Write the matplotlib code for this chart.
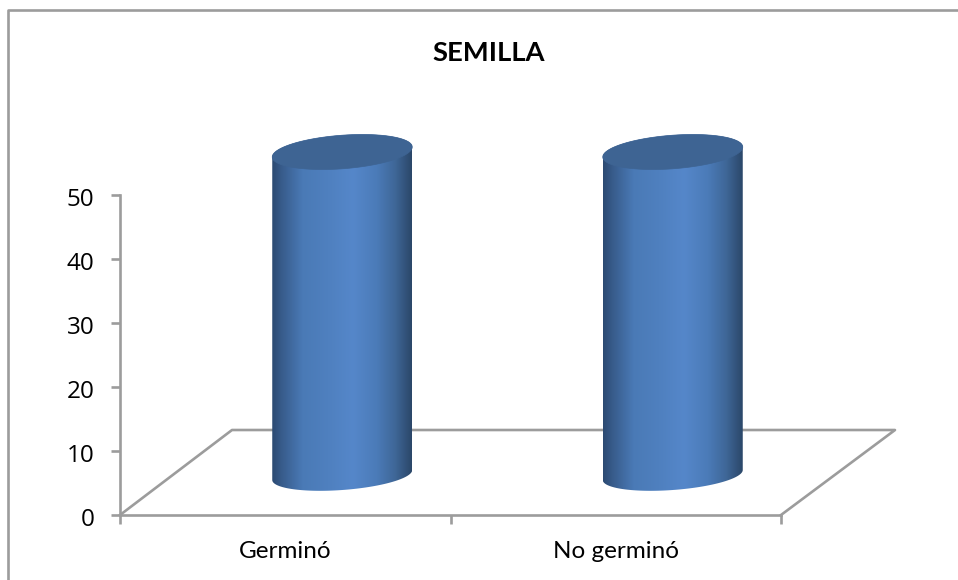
import numpy as np
import matplotlib
matplotlib.use("Agg")
import matplotlib.pyplot as plt
from matplotlib.colors import LinearSegmentedColormap
from matplotlib.lines import Line2D
from matplotlib.patches import Polygon
from matplotlib.transforms import ScaledTranslation

W, H = 958, 580
categories = ["Germinó", "No germinó"]
values = [50, 50]
yticks = [0, 10, 20, 30, 40, 50]
title = "SEMILLA"

GREY = "#9c9c9c"
plt.rcParams["font.family"] = ["Lato", "DejaVu Sans"]

fig = plt.figure(figsize=(W / 100, H / 100), dpi=100)
AX_L, AX_R, AX_T, AX_B = 120, 781, 195, 515
ax = fig.add_axes([AX_L / W, 1 - AX_B / H, (AX_R - AX_L) / W, (AX_B - AX_T) / H])
ax.set_xlim(0, len(categories))
ax.set_ylim(0, 50)
ax.patch.set_alpha(0)

PX = len(categories) / (AX_R - AX_L)   # data units per pixel, x
PY = 50 / (AX_B - AX_T)                # data units per pixel, y
lw = 1.9

# outer frame
fig.add_artist(Line2D([8 / W, 8 / W, 1], [0, 1 - 10 / H, 1 - 10 / H],
                      transform=fig.transFigure, color=GREY, lw=lw))

# axes
for s in ("top", "right"):
    ax.spines[s].set_visible(False)
for s in ("left", "bottom"):
    ax.spines[s].set_color(GREY)
    ax.spines[s].set_linewidth(lw)
ax.set_yticks(yticks)
ax.set_xticks(range(len(categories) + 1))
ax.set_xticklabels([])
ax.tick_params(axis="both", color=GREY, width=lw, length=6.5)
ax.tick_params(axis="y", labelsize=17.5, pad=12, labelcolor="black",
               labelfontfamily="Open Sans")
shift = ScaledTranslation(0, -1.5 / 100, fig.dpi_scale_trans)
for lab in ax.get_yticklabels():
    lab.set_transform(lab.get_transform() + shift)

# floor
dx_floor, dy_floor = 112 * PX, 85 * PY
n = len(categories)
ax.plot([0, dx_floor, n + 114 * PX, n], [0, dy_floor, dy_floor, 0],
        color=GREY, lw=lw, clip_on=False, zorder=1)

# cylinders
cmap = LinearSegmentedColormap.from_list("cyl", [
    (0.00, "#2c4a72"), (0.07, "#385c8c"), (0.22, "#4a7ab6"), (0.40, "#4f80bf"),
    (0.58, "#5587ca"), (0.75, "#4b7bb8"), (0.88, "#3f6798"), (1.00, "#2b4769")])
grad = np.linspace(0, 1, 256).reshape(1, -1)
t = np.linspace(0, 2 * np.pi, 181)
A, SHEAR, B_TOP, B_BOT = 70, 5, 16.8, 15
OFF_X, OFF_Y, TOP_LIFT = 57, 40, 3

for i, v in enumerate(values):
    cx = (i + 0.5) + OFF_X * PX
    base = OFF_Y * PY
    top = v + base + TOP_LIFT * PY
    front = np.linspace(0, np.pi, 91)   # lower half of an ellipse, right to left
    xs_bot = cx + A * PX * np.cos(front)
    ys_bot = base + PY * (SHEAR * np.cos(front) - B_BOT * np.sin(front))
    xs_top = cx + A * PX * np.cos(front)
    ys_top = top + PY * (SHEAR * np.cos(front) + B_TOP * np.sin(front))
    body = Polygon(np.column_stack([np.r_[xs_bot, xs_top[::-1]],
                                    np.r_[ys_bot, ys_top[::-1]]]),
                   closed=True, facecolor="none", edgecolor="none",
                   transform=ax.transData)
    ax.add_patch(body)
    body.set_clip_on(False)
    im = ax.imshow(grad, cmap=cmap, aspect="auto", interpolation="bilinear",
                   extent=(cx - A * PX, cx + A * PX, base - 20 * PY, top + 20 * PY),
                   zorder=3)
    im.set_clip_box(fig.bbox)
    im.set_clip_path(body)
    lid = Polygon(np.column_stack([cx + A * PX * np.cos(t),
                                   top + PY * (SHEAR * np.cos(t) + B_TOP * np.sin(t))]),
                  closed=True, facecolor="#3e6493", edgecolor="#3e6493", lw=0.5,
                  clip_on=False, zorder=4)
    ax.add_patch(lid)

ax.set_xlim(0, len(categories))
ax.set_ylim(0, 50)

# category labels
for i, c in enumerate(categories):
    ax.text(i + 0.5, -43 * PY, c, ha="center", va="baseline",
            fontsize=17.5, color="black", clip_on=False)

fig.text(488.5 / W, 1 - 61 / H, title, ha="center", va="baseline", fontsize=19.7,
         fontweight="bold", color="black")

fig.savefig("out.png", dpi=100, facecolor="white")
